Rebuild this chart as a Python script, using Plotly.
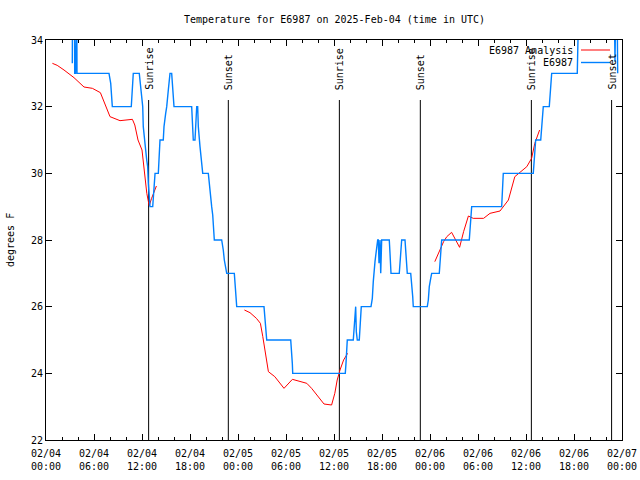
import plotly.graph_objects as go

# ---------------- data ----------------
# time in hours since 2025-02-04 00:00 UTC
obs_hours = [3.29, 3.31, 3.56, 3.59, 3.69, 3.73, 3.85, 3.875, 7.875, 8.09, 8.21, 8.29,
             10.66, 10.79, 10.91, 11.66, 11.84, 11.96, 12.09, 12.16, 12.29, 12.46, 12.59,
             12.71, 12.79, 12.91, 13.0, 13.34, 13.41, 13.54, 13.63, 14.04, 14.16, 14.25,
             14.66, 14.75, 14.96, 15.09, 15.29, 15.5, 15.71, 15.91, 16.0, 18.21, 18.41,
             18.625, 18.84, 18.96, 19.04, 19.25, 19.46, 19.59, 20.29, 20.375, 20.59, 20.71,
             20.84, 21.0, 21.04, 21.96, 22.04, 22.16, 22.29, 22.46, 22.59, 23.54, 23.625,
             23.75, 23.84, 27.25, 27.375, 27.5, 27.59, 30.59, 30.71, 30.79, 30.84, 37.41,
             37.5, 37.66, 38.41, 38.5, 38.625, 38.71, 38.79, 38.91, 39.16, 39.29, 39.41,
             40.625, 40.79, 40.91, 41.0, 41.125, 41.25, 41.34, 41.46, 41.54, 41.625, 41.75,
             41.84, 41.96, 42.91, 43.0, 43.125, 44.16, 44.34, 44.46, 44.875, 45.0, 45.16,
             45.59, 45.71, 45.84, 45.91, 47.66, 47.79, 47.91, 48.09, 48.21, 49.16, 49.25,
             49.375, 49.46, 52.91, 53.0, 53.125, 53.21, 56.96, 57.04, 57.16, 60.91, 61.0,
             61.125, 61.21, 61.84, 61.96, 62.04, 62.16, 62.91, 63.0, 63.125, 63.21, 66.41,
             66.46, 66.54, 71.06, 71.125, 71.19, 71.41, 71.46]
obs_temps = [33.3, 35, 35, 33.0, 33.0, 35, 35, 33.0, 33, 32.7, 32.3, 32,
             32, 32.7, 33, 33, 32.65, 32.4, 32, 31.4, 31, 30.7, 30.4,
             30.2, 29.7, 29.4, 29, 29, 29.25, 29.45, 30, 30, 30.5, 31,
             31, 31.4, 31.8, 32, 32.5, 33, 33, 32.4, 32, 32, 31,
             31, 32, 32, 31.4, 30.8, 30.25, 30, 30, 29.75, 29.25, 29,
             28.75, 28.3, 28, 28, 27.9, 27.7, 27.4, 27.15, 27, 27, 26.7,
             26.3, 26, 26, 25.7, 25.3, 25, 25, 24.7, 24.3, 24, 24,
             24.3, 25, 25, 25.25, 25.75, 26, 25.25, 25, 25, 25.75, 26,
             26, 26.25, 26.75, 27.1, 27.35, 27.6, 27.85, 28, 28, 27.3, 28,
             27, 28, 28, 27.6, 27, 27, 27.6, 28, 28, 27.6, 27,
             27, 26.75, 26.3, 26, 26, 26.2, 26.6, 26.85, 27, 27, 27.3,
             27.7, 28, 28, 28.3, 28.75, 29, 29, 29.6, 30, 30, 30.3,
             30.75, 31, 31, 31.3, 31.7, 32, 32, 32.25, 32.8, 33, 33,
             33.3, 34.5, 34.5, 33.35, 34.5, 34.5, 33]

ana_hours = [0.8, 1.4, 2.25, 3.5, 4.75, 5.8, 6.8, 7.6, 8.0, 9.25, 10.6, 10.8, 11.1,
             11.5, 12.0, 12.2, 12.4, 12.6, 12.8, 12.9, 13.2, 13.5, 13.8, None,
             24.8, 25.5, 26.3, 26.8, 27.1, 27.4, 27.8, 28.6, 29.25, 29.75, 30.8,
             31.75, 32.6, 33.2, 34.0, 34.75, 35.7, 36.1, 36.4, 36.75, 37.2, 37.7, None,
             48.6, 49.25, 49.7, 50.1, 50.7, 51.7, 52.2, 52.8, 53.4, 54.7, 55.5,
             56.75, 57.8, 58.6, 59.25, 60.1, 60.7, 61.1, 61.7]
ana_temps = [33.3, 33.24, 33.1, 32.87, 32.59, 32.55, 32.42, 31.9, 31.7, 31.58, 31.6,
             31.62, 31.45, 31.0, 30.7, 30.2, 29.7, 29.4, 29.15, 29.03, 29.25, 29.45,
             29.62, None,
             25.9, 25.82, 25.65, 25.5, 25.1, 24.6, 24.05, 23.9, 23.72, 23.55, 23.82,
             23.75, 23.7, 23.55, 23.3, 23.08, 23.05, 23.4, 23.8, 24.1, 24.4, 24.6, None,
             27.35, 27.7, 27.95, 28.1, 28.23, 27.78, 28.25, 28.72, 28.65, 28.65, 28.8,
             28.87, 29.2, 29.9, 30.02, 30.2, 30.45, 30.9, 31.3]

sun_hours = [12.83, 22.79, 36.67, 46.79, 60.67, 70.7]
sun_labels = ["Sunrise", "Sunset", "Sunrise", "Sunset", "Sunrise", "Sunset"]

tick_hours = [0, 6, 12, 18, 24, 30, 36, 42, 48, 54, 60, 66, 72]
tick_labels = ["02/04<br>00:00", "02/04<br>06:00", "02/04<br>12:00", "02/04<br>18:00",
               "02/05<br>00:00", "02/05<br>06:00", "02/05<br>12:00", "02/05<br>18:00",
               "02/06<br>00:00", "02/06<br>06:00", "02/06<br>12:00", "02/06<br>18:00",
               "02/07<br>00:00"]

title_text = "Temperature for E6987 on 2025-Feb-04 (time in UTC)"
series_names = ["E6987 Analysis", "E6987"]
series_colors = ["#ff0000", "#0080ff"]

Y_MIN, Y_MAX = 22, 34
SUN_LINE_TOP = 32.2
FONT = "DejaVu Sans Mono"

# plot area in page pixels
W, H = 640, 480
PL, PR, PT, PB = 46, 622, 40, 440
PW, PH = PR - PL, PB - PT


def px(xs):
    return (xs - PL) / PW


def py(ys):
    return (PB - ys) / PH


# ---------------- figure ----------------
fig = go.Figure()

sx, sy = [], []
for h in sun_hours:
    sx += [h, h, None]
    sy += [Y_MIN, SUN_LINE_TOP, None]
fig.add_trace(go.Scatter(x=sx, y=sy, mode="lines", line=dict(color="black", width=1),
                         showlegend=False, hoverinfo="skip"))

fig.add_trace(go.Scatter(x=ana_hours, y=ana_temps, mode="lines", name=series_names[0],
                         line=dict(color=series_colors[0], width=1), connectgaps=False,
                         showlegend=False))
fig.add_trace(go.Scatter(x=obs_hours, y=obs_temps, mode="lines", name=series_names[1],
                         line=dict(color=series_colors[1], width=1.4), showlegend=False))

annotations = []
for h, lab in zip(sun_hours, sun_labels):
    annotations.append(dict(x=h, y=32.44, xref="x", yref="y", text=lab, textangle=-90,
                            showarrow=False, xanchor="center", yanchor="bottom",
                            font=dict(family=FONT, size=10, color="black")))

# title
annotations.append(dict(x=0.5, y=py(20), xref="paper", yref="paper", text=title_text,
                        showarrow=False, xanchor="center", yanchor="middle",
                        font=dict(family=FONT, size=10, color="black")))
# y label
annotations.append(dict(x=px(10), y=0.5, xref="paper", yref="paper", text="degrees F",
                        textangle=-90, showarrow=False, xanchor="center", yanchor="middle",
                        font=dict(family=FONT, size=10, color="black")))

# legend (gnuplot style: text then sample to the right)
shapes = []
leg_y = [py(50), py(62.5)]
for i, (nm, col) in enumerate(zip(series_names, series_colors)):
    annotations.append(dict(x=px(575), y=leg_y[i], xref="paper", yref="paper",
                            text=nm, showarrow=False, xanchor="right", yanchor="middle",
                            font=dict(family=FONT, size=10, color="black")))
    shapes.append(dict(type="line", xref="paper", yref="paper",
                       x0=px(581), x1=px(610), y0=leg_y[i], y1=leg_y[i],
                       line=dict(color=col, width=1 if i == 0 else 1.4)))

fig.update_layout(
    width=W, height=H,
    margin=dict(l=PL, r=W - PR, t=PT, b=H - PB, pad=0, autoexpand=False),
    paper_bgcolor="white", plot_bgcolor="white",
    showlegend=False,
    annotations=annotations, shapes=shapes,
    font=dict(family=FONT, size=10, color="black"),
)
fig.update_xaxes(range=[0, 72], tickmode="array", tickvals=tick_hours, ticktext=tick_labels,
                 ticks="inside", ticklen=6, tickcolor="black", showline=True, linecolor="black",
                 linewidth=1, mirror="allticks", showgrid=False, zeroline=False,
                 automargin=False, ticklabeloverflow="allow", ticklabelstandoff=4,
                 minor=dict(dtick=2, tick0=0, ticks="inside", ticklen=3, tickcolor="black",
                            showgrid=False),
                 tickfont=dict(family=FONT, size=10, color="black"))
fig.update_yaxes(range=[Y_MIN, Y_MAX], dtick=2, tick0=22, ticks="inside", ticklen=6,
                 tickcolor="black", showline=True, linecolor="black", linewidth=1,
                 mirror="allticks", showgrid=False, zeroline=False, automargin=False,
                 tickfont=dict(family=FONT, size=10, color="black"))

fig.write_html("out.html", config={"displayModeBar": False},
               post_script="document.body.style.margin='0';document.body.style.overflow='hidden';")
